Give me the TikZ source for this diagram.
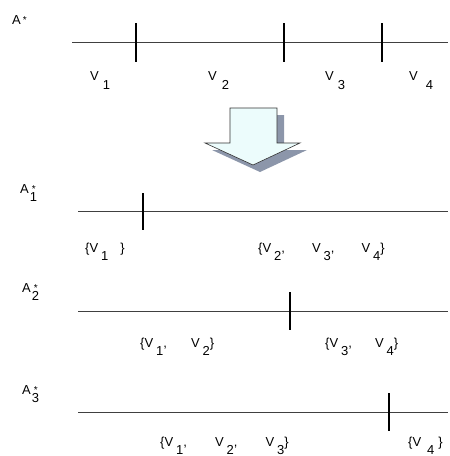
\documentclass[tikz,border=0pt]{standalone}
\usepackage{fontspec}
\setmainfont{Liberation Sans}
% V with a dropped index, A with index and star
\newcommand{\vs}[1]{V\hspace{3pt}\raisebox{-8pt}{#1}}
\newcommand{\as}[1]{A\hspace{1pt}\rlap{\raisebox{-8pt}{#1}}\hspace{2pt}\raisebox{1pt}{\fontsize{10}{10}\selectfont *}}
\begin{document}
\begin{tikzpicture}[x=1pt,y=-1pt,
    axis/.style={line width=0.9pt, black!75},
    tick/.style={line width=1.1pt},
    setname/.style={anchor=base west, inner sep=0pt, font=\fontsize{13}{15}\selectfont},
    part/.style={anchor=base west, inner sep=0pt, font=\fontsize{13}{15}\selectfont}]
    \definecolor{myfill}{RGB}{236,252,252}
    \definecolor{myshad}{RGB}{140,150,170}
    \useasboundingbox (0,0) rectangle (450,456);

    % partition of A*
    \node[setname] (astar) at (12,24) {A\hspace{2pt}\raisebox{0.5pt}{\fontsize{10}{10}\selectfont *}};
    \draw[axis] (72,42) -- (448,42);
    \foreach \t in {136,284,382}
        \draw[tick] (\t,23) -- (\t,62);
    \node[part] (v1) at (90,80) {V\hspace{4pt}\raisebox{-9pt}{1}};
    \node[part] (v2) at (208,80) {V\hspace{5pt}\raisebox{-9pt}{2}};
    \node[part] (v3) at (325,80) {V\hspace{4pt}\raisebox{-9pt}{3}};
    \node[part] (v4) at (409,80) {V\hspace{8pt}\raisebox{-9pt}{4}};

    % block arrow
    \fill[myshad] (237,115) -- (284,115) -- (284,150) -- (307,150) -- (260,172) -- (212,150) -- (237,150) -- cycle;
    \filldraw[fill=myfill, draw=black!80, line width=0.6pt]
        (230,108) -- (277,108) -- (277,143) -- (300,143) -- (253,165) -- (205,143) -- (230,143) -- cycle;

    % first cut
    \node[setname] (a1) at (20,193) {\as{1}};
    \draw[axis] (78,211) -- (448,211);
    \draw[tick] (143,193) -- (143,230);
    \node[part] (a1l) at (85,252) {\{\vs{1}\hspace{12pt}\}};
    \node[part] (a1r) at (258,252) {\{\vs{2},\hspace{27pt}\vs{3},\hspace{27pt}\vs{4}\}};

    % second cut
    \node[setname] (a2) at (22,292) {\as{2}};
    \draw[axis] (78,311) -- (448,311);
    \draw[tick] (290,292) -- (290,330);
    \node[part] (a2l) at (140,347) {\{\vs{1},\hspace{24pt}\vs{2}\}};
    \node[part] (a2r) at (325,347) {\{\vs{3},\hspace{23pt}\vs{4}\}};

    % third cut
    \node[setname] (a3) at (22,394) {\as{3}};
    \draw[axis] (78,412) -- (448,412);
    \draw[tick] (389,393) -- (389,431);
    \node[part] (a3l) at (160,446) {\{\vs{1},\hspace{28pt}\vs{2},\hspace{28pt}\vs{3}\}};
    \node[part] (a3r) at (408,446) {\{V\hspace{6pt}\raisebox{-8pt}{4}\hspace{4pt}\}};
\end{tikzpicture}
\end{document}
